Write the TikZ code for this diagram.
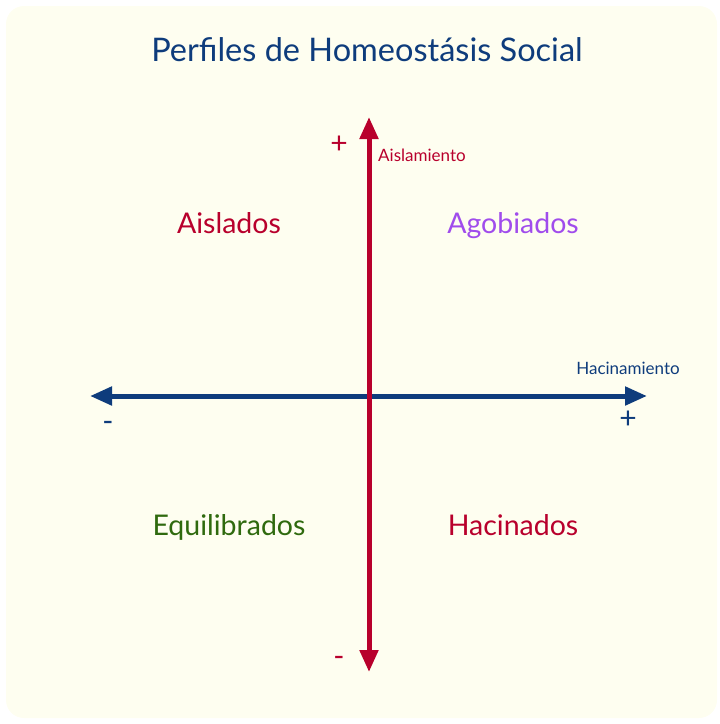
\documentclass[tikz,border=0pt]{standalone}
\usepackage{fontspec}
\setmainfont{Lato}
\usetikzlibrary{arrows.meta}

\definecolor{cream}{HTML}{FEFEF0}
\definecolor{axisblue}{HTML}{0E3C7C}
\definecolor{axisred}{HTML}{B8002C}
\definecolor{lilac}{HTML}{A04CEC}
\definecolor{leafgreen}{HTML}{2F6A0E}

\begin{document}
\begin{tikzpicture}[x=1pt,y=-1pt]
              \tikzstyle{every node}+=[inner sep=0pt]
              \tikzstyle{quad}=[font=\fontsize{28.5}{28.5}\selectfont, anchor=base]
              \tikzstyle{tag}=[font=\fontsize{17}{17}\selectfont]
              \tikzstyle{sign}=[font=\fontsize{30}{30}\selectfont]
              \useasboundingbox (0,0) rectangle (720,724);
              \fill [cream, rounded corners=18pt] (6,6) rectangle (717,718);
              \node (title) at (367,50) [text=axisblue, font=\fontsize{32.5}{32.5}\selectfont] {Perfiles de Homeostásis Social};
              % axes
              \coordinate (hleft) at (90,396);
              \coordinate (hright) at (647,396);
              \coordinate (vtop) at (369,117);
              \coordinate (vbot) at (369,672);
              \draw [axisblue, line width=5pt, {Triangle[length=22pt,width=18pt]}-{Triangle[length=22pt,width=18pt]}] (hleft) -- (hright);
              \draw [axisred, line width=5pt, {Triangle[length=22pt,width=18pt]}-{Triangle[length=22pt,width=18pt]}] (vbot) -- (vtop);
              \node (hname) at (628,368) [tag, text=axisblue] {Hacinamiento};
              \node (vname) [tag, text=axisred, anchor=west] at (378,155) {Aislamiento};
              \node (hminus) at (108,426) [sign, text=axisblue] {-};
              \node (hplus) at (628,420) [sign, text=axisblue] {+};
              \node (vplus) at (339,145) [sign, text=axisred] {+};
              \node (vminus) at (339,661) [sign, text=axisred] {-};
              % quadrants
              \node (aislados) at (229,233) [quad, text=axisred] {Aislados};
              \node (agobiados) at (513,233) [quad, text=lilac] {Agobiados};
              \node (equilibrados) at (229,535) [quad, text=leafgreen] {Equilibrados};
              \node (hacinados) at (513,535) [quad, text=axisred] {Hacinados};
            \end{tikzpicture}
\end{document}
